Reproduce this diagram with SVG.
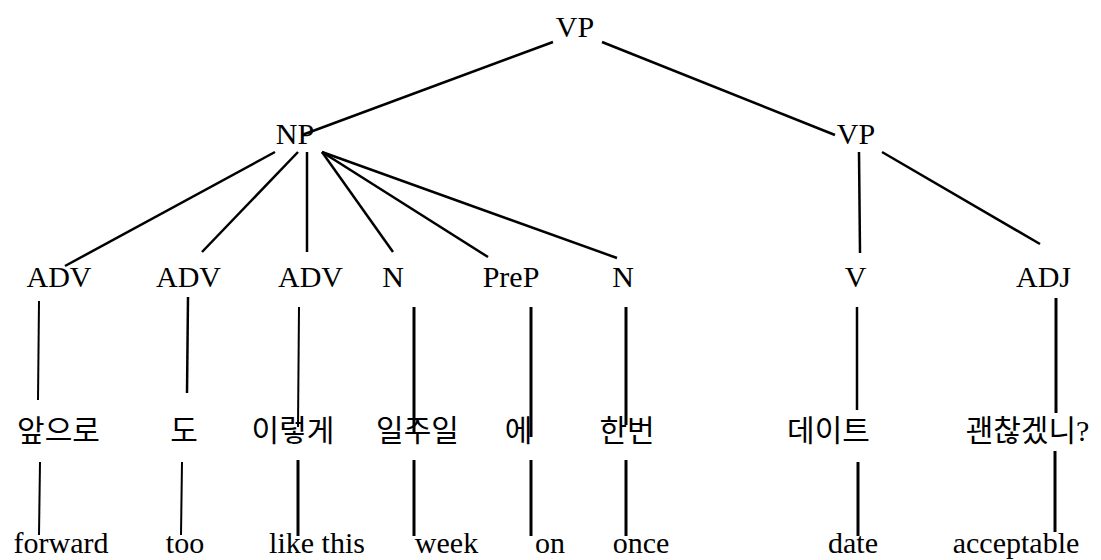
<svg xmlns="http://www.w3.org/2000/svg" width="1101" height="560" viewBox="0 0 1101 560">
  <style>
    .lbl { font-family: "Liberation Serif", "Noto Sans CJK KR", serif; font-size: 30px; fill: #000; text-anchor: middle; }
    .ko { font-family: "Noto Sans CJK KR", sans-serif; font-size: 30px; fill: #000; text-anchor: middle; }
    .edge { stroke: #000; stroke-width: 2.5; fill: none; stroke-linecap: butt; }
  </style>
  <rect width="1101" height="560" fill="#fff"/>

  <!-- tree edges -->
  <g id="connectors" class="edge">
    <line x1="553" y1="42" x2="302" y2="135"/>
    <line x1="602" y1="42" x2="835" y2="135"/>
    <line x1="275" y1="152" x2="65" y2="266"/>
    <line x1="298" y1="152" x2="202" y2="252"/>
    <line x1="307" y1="152" x2="307" y2="252"/>
    <line x1="322" y1="152" x2="393" y2="252"/>
    <line x1="322" y1="152" x2="488" y2="257"/>
    <line x1="322" y1="152" x2="617" y2="258"/>
    <line x1="859" y1="152" x2="860" y2="253"/>
    <line x1="882" y1="152" x2="1040" y2="244"/>
    <!-- tag to word -->
    <line x1="39" y1="301" x2="38" y2="400" stroke-width="2"/>
    <line x1="188" y1="297" x2="187" y2="393"/>
    <line x1="299" y1="307" x2="298" y2="427" stroke-width="2"/>
    <line x1="414" y1="307" x2="414" y2="432" stroke-width="3"/>
    <line x1="531" y1="307" x2="531" y2="437" stroke-width="3"/>
    <line x1="626" y1="307" x2="626" y2="425" stroke-width="3"/>
    <line x1="857" y1="307" x2="857" y2="410"/>
    <line x1="1056" y1="298" x2="1056" y2="413" stroke-width="3"/>
    <!-- word to gloss -->
    <line x1="40" y1="462" x2="39" y2="535" stroke-width="2"/>
    <line x1="182" y1="462" x2="181" y2="535" stroke-width="2"/>
    <line x1="298" y1="460" x2="298" y2="536" stroke-width="3"/>
    <line x1="414" y1="460" x2="414" y2="536" stroke-width="3"/>
    <line x1="531" y1="460" x2="531" y2="536" stroke-width="3"/>
    <line x1="626" y1="460" x2="626" y2="536" stroke-width="3"/>
    <line x1="858" y1="462" x2="858" y2="536" stroke-width="3"/>
    <line x1="1055" y1="451" x2="1055" y2="532" stroke-width="3"/>
  </g>

  <!-- phrase nodes -->
  <g id="vp-root"><text class="lbl" x="575" y="37">VP</text></g>
  <g id="np"><text class="lbl" x="295" y="144">NP</text></g>
  <g id="vp-sub"><text class="lbl" x="856" y="144">VP</text></g>

  <!-- category tags -->
  <g id="adv1"><text class="lbl" x="59" y="287">ADV</text></g>
  <g id="adv2"><text class="lbl" x="188.5" y="287">ADV</text></g>
  <g id="adv3"><text class="lbl" x="310.5" y="287">ADV</text></g>
  <g id="n1"><text class="lbl" x="393" y="287">N</text></g>
  <g id="prep"><text class="lbl" x="511" y="287">PreP</text></g>
  <g id="n2"><text class="lbl" x="623" y="287">N</text></g>
  <g id="v"><text class="lbl" x="855.5" y="287">V</text></g>
  <g id="adj"><text class="lbl" x="1043.5" y="287">ADJ</text></g>

  <!-- Korean words -->
  <g id="w-apeuro"><text class="ko" x="58.5" y="441">앞으로</text></g>
  <g id="w-do"><text class="ko" x="184" y="441">도</text></g>
  <g id="w-ireotge"><text class="ko" x="293" y="441">이렇게</text></g>
  <g id="w-iljuil"><text class="ko" x="417.5" y="441">일주일</text></g>
  <g id="w-e"><text class="ko" x="518.5" y="441">에</text></g>
  <g id="w-hanbeon"><text class="ko" x="627" y="441">한번</text></g>
  <g id="w-deiteu"><text class="ko" x="828.5" y="441">데이트</text></g>
  <g id="w-gwaenchan"><text class="ko" x="1027.5" y="441">괜찮겠니<tspan font-family="Liberation Serif, serif">?</tspan></text></g>

  <!-- English glosses -->
  <g id="g-forward"><text class="lbl" x="61" y="553">forward</text></g>
  <g id="g-too"><text class="lbl" x="185" y="553">too</text></g>
  <g id="g-likethis"><text class="lbl" x="317" y="553">like this</text></g>
  <g id="g-week"><text class="lbl" x="446.5" y="553">week</text></g>
  <g id="g-on"><text class="lbl" x="550" y="553">on</text></g>
  <g id="g-once"><text class="lbl" x="641" y="553">once</text></g>
  <g id="g-date"><text class="lbl" x="853" y="553">date</text></g>
  <g id="g-acceptable"><text class="lbl" x="1016" y="553">acceptable</text></g>
</svg>
